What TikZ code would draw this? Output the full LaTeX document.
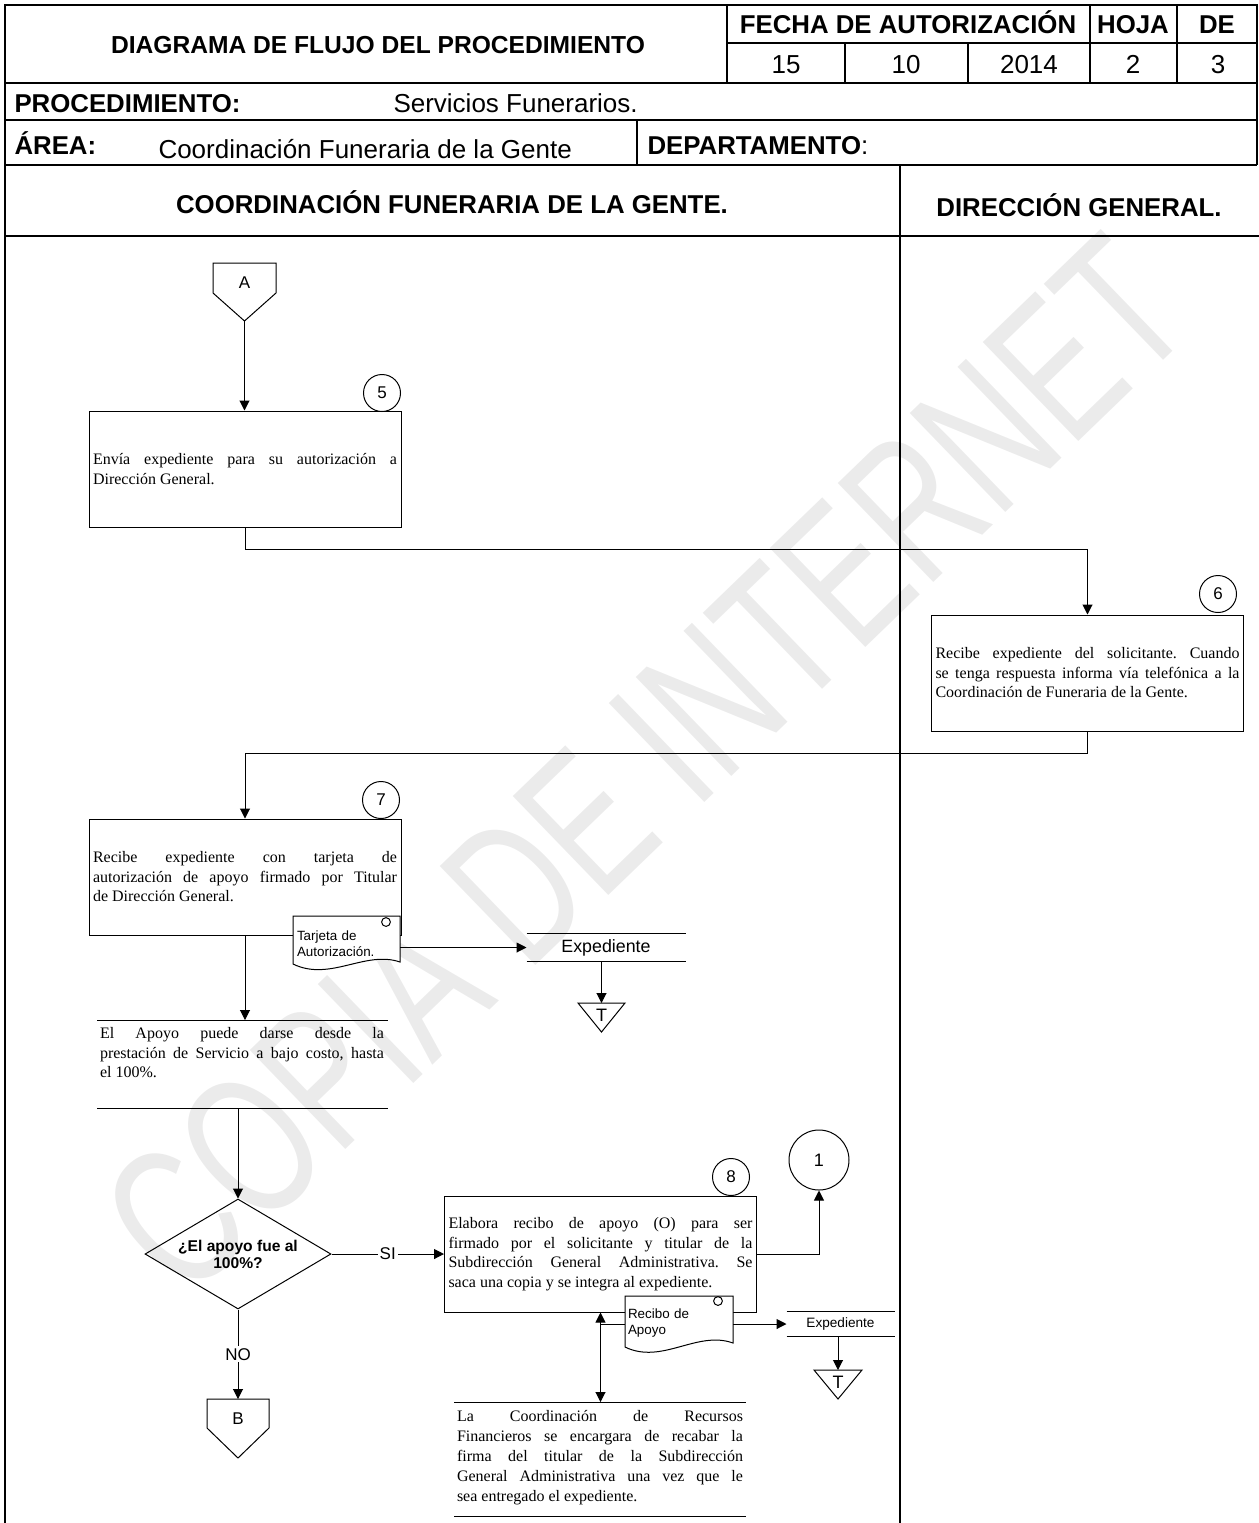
\documentclass[tikz,border=0pt]{standalone}
\usepackage{fontspec}
\setmainfont{Liberation Serif}
\setsansfont{Liberation Sans}
\usetikzlibrary{shapes.geometric,arrows.meta}
\hbadness=10000
\tolerance=9999
\frenchspacing

\tikzset{
  hdr/.style={inner sep=0pt, text height=9.2pt, text depth=0pt, font=\sffamily\bfseries\fontsize{12.9pt}{15pt}\selectfont},
  hdrval/.style={inner sep=0pt, text height=9.3pt, text depth=0pt, font=\sffamily\fontsize{13pt}{15pt}\selectfont},
  proc/.style={draw, rectangle, minimum width=156pt, minimum height=58pt, text width=152pt,
    inner xsep=2pt, inner ysep=0pt, align=justify, font=\fontsize{8pt}{9.75pt}\selectfont},
  annot/.style={inner sep=0pt, text width=142pt, align=justify, font=\fontsize{8pt}{9.75pt}\selectfont},
  stepnum/.style={draw, circle, minimum size=18.5pt, inner sep=0pt, font=\sffamily\fontsize{8.5pt}{10pt}\selectfont},
  decide/.style={draw, diamond, aspect=1.7, minimum width=93pt, minimum height=55pt, inner sep=0pt, align=center,
    font=\sffamily\bfseries\fontsize{7.8pt}{8.5pt}\selectfont},
  doctext/.style={inner sep=0pt, text width=50pt, align=left, font=\sffamily\fontsize{6.7pt}{8pt}\selectfont},
  store/.style={minimum height=13.5pt, minimum width=79pt, inner sep=0pt, font=\sffamily\fontsize{8.9pt}{10pt}\selectfont},
  lbl/.style={font=\sffamily\fontsize{8.5pt}{10pt}\selectfont},
}

\begin{document}
\begin{tikzpicture}[x=0.5pt, y=-0.5pt, line width=0.5pt, >={Triangle[length=5pt,width=5pt]}]
  \useasboundingbox (0,0) rectangle (1259,1523);
  % marca de agua
  \node[rotate=44, text=black!8, font=\sffamily\fontsize{100pt}{100pt}\selectfont] (marca) at (645,765)
    {\scalebox{0.7}[1]{COPIA DE INTERNET}};

  % encabezado
  \draw[line width=1pt] (5,1523) -- (5,5) -- (1257,5) -- (1257,165);
  \draw[line width=1pt] (5,83) -- (1257,83) (5,120) -- (1257,120) (5,165) -- (1257,165) (5,236) -- (1259,236);
  \draw[line width=1pt] (727,5) -- (727,83) (727,43) -- (1257,43) (1090,5) -- (1090,83) (1177,5) -- (1177,83)
    (845,43) -- (845,83) (968,43) -- (968,83) (637,120) -- (637,165);
  \draw[line width=0.8pt] (900,165) -- (900,1523);

  \node[hdr, font=\sffamily\bfseries\fontsize{12.3pt}{15pt}\selectfont] (titulo) at (378,44) {DIAGRAMA DE FLUJO DEL PROCEDIMIENTO};
  \node[hdr] (fecha) at (908,24) {FECHA DE AUTORIZACIÓN};
  \node[hdr] (hoja) at (1133,24) {HOJA};
  \node[hdr] (de) at (1217,24) {DE};
  \node[hdrval] (dia) at (786,64) {15};
  \node[hdrval] (mes) at (906,64) {10};
  \node[hdrval] (anio) at (1029,64) {2014};
  \node[hdrval] (pag) at (1133,64) {2};
  \node[hdrval] (tot) at (1218,64) {3};
  \node[hdr, anchor=west] (proclbl) at (14,103) {PROCEDIMIENTO:};
  \node[hdrval, anchor=west] (procval) at (393,103) {Servicios Funerarios.};
  \node[hdr, anchor=west] (arealbl) at (14,145) {ÁREA:};
  \node[hdrval, anchor=west] (areaval) at (158,149) {Coordinación Funeraria de la Gente};
  \node[hdr, anchor=west] (deptolbl) at (647,145) {DEPARTAMENTO\textmd{:}};
  \node[hdr] (carril1) at (452,204) {COORDINACIÓN FUNERARIA DE LA GENTE.};
  \node[hdr] (carril2) at (1079,207) {DIRECCIÓN GENERAL.};

  % conector A
  \node[lbl] (conA) at (244.5,283) {A};
  \coordinate (conAtip) at (244.5,321);
  \draw (213,263) -- (276,263) -- (276,293) -- (conAtip) -- (213,293) -- cycle;

  \node[stepnum] (n5) at (382,393) {5};
  \node[proc] (p5) at (245,469) {Envía expediente para su autorización a\linebreak Dirección General.};
  \draw[->] (conAtip) -- (conAtip |- p5.north);

  \node[stepnum] (n6) at (1218,594) {6};
  \node[proc] (p6) at (1087.5,673) {Recibe expediente del solicitante. Cuando\linebreak se tenga respuesta informa vía telefónica a la\linebreak Coordinación de Funeraria de la Gente.};
  \draw[->] (p5.south) -- ++(0,22) -| (p6.north);

  \node[stepnum] (n7) at (381,800) {7};
  \node[proc] (p7) at (245,877) {Recibe expediente con tarjeta de\linebreak autorización de apoyo firmado por Titular\linebreak de Dirección General.};
  \draw[->] (p6.south) -- ++(0,22) -| (p7.north);

  % documento tarjeta
  \draw[fill=white] (293,916) -- (400,916) -- (400,962) .. controls (365,950) and (330,982) .. (293,964) -- cycle;
  \draw (386,922) circle (2.2pt);
  \node[doctext] (d1) at (347,944) {Tarjeta de\\Autorización.};
  \coordinate (d1r) at (400,947.5);

  \node[store] (e1) at (606,947.5) {Expediente};
  \draw (e1.north west) -- (e1.north east) (e1.south west) -- (e1.south east);
  \draw[->] (d1r) -- (e1.west);

  \node[lbl, font=\sffamily\fontsize{9pt}{10pt}\selectfont] (t1) at (601.5,1015) {T};
  \coordinate (t1top) at (601.5,1003);
  \draw (578,1003) -- (625,1003) -- (601.5,1032) -- cycle;
  \draw[->] (e1.south -| t1top) -- (t1top);

  % nota apoyo
  \node[annot] (a1) at (242,1053) {El Apoyo puede darse desde la\linebreak prestación de Servicio a bajo costo, hasta\linebreak el 100\%.};
  \draw (97,1020) -- (388,1020) (97,1108) -- (388,1108);
  \coordinate (a1top) at (245,1020);
  \coordinate (a1bot) at (238,1108);
  \draw[->] (p7.south) -- (a1top);

  \node[decide] (q1) at (238,1254) {¿El apoyo fue al\\100\%?};
  \draw[->] (a1bot) -- (q1.north);

  \node[stepnum] (n8) at (731,1177) {8};
  \node[proc] (p8) at (600.5,1254) {Elabora recibo de apoyo (O) para ser\linebreak firmado por el solicitante y titular de la\linebreak Subdirección General Administrativa. Se\linebreak saca una copia y se integra al expediente.};
  \draw[->] (q1.east) -- node[lbl, fill=white, inner sep=1pt] (si) {SI} (p8.west);

  \node[stepnum, minimum size=30pt, font=\sffamily\fontsize{9pt}{10pt}\selectfont] (c1) at (819,1160) {1};
  \draw[->] (p8.east) -| (c1.south);

  % documento recibo
  \draw[fill=white] (625,1296) -- (733,1296) -- (733,1343) .. controls (697,1330) and (662,1365) .. (625,1347) -- cycle;
  \draw (718,1301) circle (2.2pt);
  \node[doctext] (d2) at (678,1323.5) {Recibo de\\Apoyo};
  \coordinate (d2r) at (733,1324);
  \coordinate (d2l) at (625,1324);

  \node[store, minimum width=53.5pt, minimum height=12pt, font=\sffamily\fontsize{6.8pt}{8pt}\selectfont] (e2) at (840.5,1324) {Expediente};
  \draw (e2.north west) -- (e2.north east) (e2.south west) -- (e2.south east);
  \draw[->] (d2r) -- (e2.west);
  \draw (p8.south |- e2.west) -- (d2l);

  \node[lbl, font=\sffamily\fontsize{9pt}{10pt}\selectfont] (t2) at (838,1382) {T};
  \coordinate (t2top) at (838,1370);
  \draw (814,1370) -- (862,1370) -- (838,1399) -- cycle;
  \draw[->] (e2.south -| t2top) -- (t2top);

  % nota firma
  \node[annot, text width=143pt, font=\fontsize{8pt}{10pt}\selectfont] (a2) at (600,1458) {La Coordinación de Recursos\linebreak Financieros se encargara de recabar la\linebreak firma del titular de la Subdirección\linebreak General Administrativa una vez que le\linebreak sea entregado el expediente.};
  \draw (454,1402) -- (746,1402) (454,1516) -- (746,1516);
  \coordinate (a2top) at (600.5,1402);
  \draw[<->] (p8.south) -- (a2top);

  % conector B
  \node[lbl] (conB) at (238,1419) {B};
  \coordinate (conBtop) at (238,1399);
  \draw (207,1399) -- (269,1399) -- (269,1428) -- (238,1458) -- (207,1428) -- cycle;
  \draw[->] (q1.south) -- node[lbl, fill=white, inner sep=1pt] (no) {NO} (conBtop);
\end{tikzpicture}
\end{document}
